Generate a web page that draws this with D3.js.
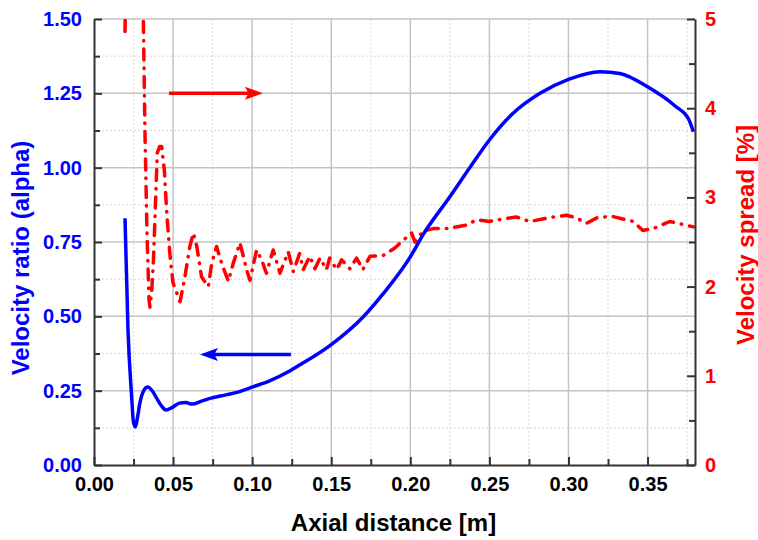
<!DOCTYPE html>
<html>
<head>
<meta charset="utf-8">
<script src="https://cdn.jsdelivr.net/npm/d3@7"></script>
<style>
  html, body { margin: 0; padding: 0; background: #fff; }
  svg { display: block; font-family: "Liberation Sans", Arial, sans-serif; }
</style>
</head>
<body>
<svg id="chart" width="758" height="540"></svg>
<script>
// ---- data ----
const blueX = [0.0196,0.0215,0.0238,0.0249,0.0262,0.0275,0.0290,0.0312,0.0340,0.0370,0.0396,0.0425,0.0455,0.0490,0.0540,0.0580,0.0620,0.0680,0.0740,0.0800,0.0920,0.1000,0.1110,0.1240,0.1300,0.1500,0.1700,0.1830,0.2000,0.2080,0.2250,0.2380,0.2500,0.2650,0.2820,0.3000,0.3200,0.3325,0.3500,0.3680,0.3757,0.3790];
const blueY = [0.830,0.454,0.230,0.146,0.128,0.160,0.208,0.247,0.262,0.248,0.225,0.200,0.185,0.192,0.208,0.210,0.205,0.215,0.225,0.232,0.247,0.262,0.283,0.317,0.336,0.405,0.497,0.577,0.700,0.774,0.902,1.003,1.093,1.183,1.250,1.297,1.323,1.317,1.272,1.205,1.166,1.121];

const redX = [0.0196,0.0203,0.0300,0.0312,0.0322,0.0335,0.0348,0.0354,0.0365,0.0376,0.0390,0.0400,0.0415,0.0428,0.0445,0.0460,0.0481,0.0500,0.0523,0.0544,0.0575,0.0606,0.0628,0.0650,0.0680,0.0723,0.0744,0.0775,0.0807,0.0850,0.0880,0.0923,0.0965,0.0986,0.1028,0.1060,0.1090,0.1133,0.1176,0.1228,0.1260,0.1300,0.1323,0.1365,0.1397,0.1429,0.1470,0.1490,0.1534,0.1566,0.1618,0.1660,0.1700,0.1745,0.1830,0.1900,0.1955,0.2008,0.2030,0.2080,0.2145,0.2230,0.2355,0.2420,0.2500,0.2560,0.2670,0.2756,0.2900,0.2988,0.3050,0.3114,0.3180,0.3270,0.3410,0.3470,0.3536,0.3640,0.3790];
const redV = [4.86,5.60,5.60,5.00,3.75,2.60,1.85,1.77,1.95,2.30,3.00,3.50,3.57,3.57,3.30,2.82,2.34,2.04,1.93,1.83,2.11,2.45,2.60,2.45,2.11,2.00,2.26,2.45,2.26,2.06,2.26,2.49,2.19,2.07,2.41,2.30,2.15,2.41,2.15,2.39,2.17,2.37,2.19,2.34,2.20,2.32,2.19,2.32,2.19,2.30,2.20,2.32,2.19,2.34,2.35,2.43,2.52,2.60,2.50,2.62,2.65,2.65,2.69,2.75,2.73,2.75,2.78,2.73,2.78,2.80,2.77,2.71,2.77,2.79,2.73,2.63,2.65,2.73,2.67];

const xTicks = [0.00,0.05,0.10,0.15,0.20,0.25,0.30,0.35];
const xMinor = [0.025,0.075,0.125,0.175,0.225,0.275,0.325,0.375];
const yLeftTicks = [0.00,0.25,0.50,0.75,1.00,1.25,1.50];
const yLeftMinor = [0.125,0.375,0.625,0.875,1.125,1.375];
const yRightTicks = [0,1,2,3,4,5];
const yRightMinor = [0.5,1.5,2.5,3.5,4.5];

// arrows (annotation, data coords: [x1, x2, y on left axis])
const redArrow = [0.0474, 0.1068, 1.25];
const blueArrow = [0.1245, 0.0670, 0.372];

// ---- layout ----
const L = 94, R = 695, T = 19, B = 465;
const svg = d3.select("#chart");
const x = d3.scaleLinear().domain([0, 0.38]).range([L, R]);
const yL = d3.scaleLinear().domain([0, 1.5]).range([B, T]);
const yR = d3.scaleLinear().domain([0, 5]).range([B, T]);

// grid
const grid = svg.append("g");
grid.selectAll(".vmin").data(xMinor).enter().append("line")
  .attr("x1", d => x(d)).attr("x2", d => x(d)).attr("y1", T).attr("y2", B)
  .attr("stroke", "#d8d8d8").attr("stroke-width", 1).attr("stroke-dasharray", "2,2");
grid.selectAll(".hmin").data(yLeftMinor).enter().append("line")
  .attr("x1", L).attr("x2", R).attr("y1", d => yL(d)).attr("y2", d => yL(d))
  .attr("stroke", "#d8d8d8").attr("stroke-width", 1).attr("stroke-dasharray", "2,2");
grid.selectAll(".vmaj").data(xTicks.slice(1)).enter().append("line")
  .attr("x1", d => x(d)).attr("x2", d => x(d)).attr("y1", T).attr("y2", B)
  .attr("stroke", "#c4c4c4").attr("stroke-width", 1.5);
grid.selectAll(".hmaj").data(yLeftTicks.slice(1)).enter().append("line")
  .attr("x1", L).attr("x2", R).attr("y1", d => yL(d)).attr("y2", d => yL(d))
  .attr("stroke", "#c4c4c4").attr("stroke-width", 1.5);

// clip
svg.append("clipPath").attr("id", "clip").append("rect")
  .attr("x", L).attr("y", T).attr("width", R - L).attr("height", B - T);

// red curve
const redData = redX.map((d, i) => [d, redV[i]]);
svg.append("path").datum(redData)
  .attr("clip-path", "url(#clip)")
  .attr("fill", "none").attr("stroke", "#ff0000").attr("stroke-width", 3.5)
  .attr("stroke-linecap", "round").attr("stroke-linejoin", "round")
  .attr("stroke-dasharray", "11,8,0.5,8")
  .attr("d", d3.line().x(d => x(d[0])).y(d => yR(d[1])));

// blue curve
const blueData = blueX.map((d, i) => [d, blueY[i]]);
svg.append("path").datum(blueData)
  .attr("clip-path", "url(#clip)")
  .attr("fill", "none").attr("stroke", "#0000ff").attr("stroke-width", 3.5)
  .attr("stroke-linejoin", "round")
  .attr("d", d3.line().curve(d3.curveMonotoneX).x(d => x(d[0])).y(d => yL(d[1])));

// arrows
function arrow(a, color) {
  const x1 = x(a[0]), x2 = x(a[1]), yy = yL(a[2]);
  const dir = Math.sign(x2 - x1);
  const hl = 18, hw = 6.5;
  svg.append("line").attr("x1", x1).attr("x2", x2 - dir * hl * 0.6).attr("y1", yy).attr("y2", yy)
    .attr("stroke", color).attr("stroke-width", 3.5);
  svg.append("path")
    .attr("d", `M${x2},${yy} L${x2 - dir * hl},${yy - hw} L${x2 - dir * hl * 0.8},${yy} L${x2 - dir * hl},${yy + hw} Z`)
    .attr("fill", color);
}
arrow(redArrow, "#ff0000");
arrow(blueArrow, "#0000ff");

// axes
const axisColor = "#333";
function styleAxis(g, color) {
  g.select(".domain").attr("stroke", axisColor).attr("stroke-width", 2);
  g.selectAll(".tick line").attr("stroke", axisColor).attr("stroke-width", 2);
  g.selectAll("text").attr("fill", color).attr("font-size", 20).attr("font-weight", "bold")
    .attr("font-family", "'Liberation Sans', Arial, sans-serif");
}
const gx = svg.append("g").attr("transform", `translate(0,${B})`)
  .call(d3.axisBottom(x).tickValues(xTicks).tickFormat(d3.format(".2f")).tickSizeInner(-8).tickSizeOuter(0).tickPadding(12));
styleAxis(gx, "#000");
svg.append("g").attr("transform", `translate(0,${B})`)
  .call(d3.axisBottom(x).tickValues(xMinor).tickFormat("").tickSizeInner(-6).tickSizeOuter(0))
  .call(g => { g.select(".domain").remove(); g.selectAll("line").attr("stroke", axisColor).attr("stroke-width", 2); });

const gl = svg.append("g").attr("transform", `translate(${L},0)`)
  .call(d3.axisLeft(yL).tickValues(yLeftTicks).tickFormat(d3.format(".2f")).tickSizeInner(-8).tickSizeOuter(0).tickPadding(12));
styleAxis(gl, "#0000ff");
svg.append("g").attr("transform", `translate(${L},0)`)
  .call(d3.axisLeft(yL).tickValues(yLeftMinor).tickFormat("").tickSizeInner(-6).tickSizeOuter(0))
  .call(g => { g.select(".domain").remove(); g.selectAll("line").attr("stroke", axisColor).attr("stroke-width", 2); });

const gr = svg.append("g").attr("transform", `translate(${R},0)`)
  .call(d3.axisRight(yR).tickValues(yRightTicks).tickFormat(d3.format("d")).tickSizeInner(-8).tickSizeOuter(0).tickPadding(10));
styleAxis(gr, "#ff0000");
svg.append("g").attr("transform", `translate(${R},0)`)
  .call(d3.axisRight(yR).tickValues(yRightMinor).tickFormat("").tickSizeInner(-6).tickSizeOuter(0))
  .call(g => { g.select(".domain").remove(); g.selectAll("line").attr("stroke", axisColor).attr("stroke-width", 2); });

// titles
svg.append("text").attr("x", (L + R) / 2 - 1).attr("y", 531).attr("text-anchor", "middle")
  .attr("font-size", 24).attr("font-weight", "bold").attr("fill", "#000")
  .text("Axial distance [m]");
svg.append("text").attr("transform", "translate(29,258) rotate(-90)").attr("text-anchor", "middle")
  .attr("font-size", 24).attr("font-weight", "bold").attr("fill", "#0000ff")
  .text("Velocity ratio (alpha)");
svg.append("text").attr("transform", "translate(754,235) rotate(-90)").attr("text-anchor", "middle")
  .attr("font-size", 24).attr("font-weight", "bold").attr("fill", "#ff0000")
  .text("Velocity spread [%]");
</script>
</body>
</html>
